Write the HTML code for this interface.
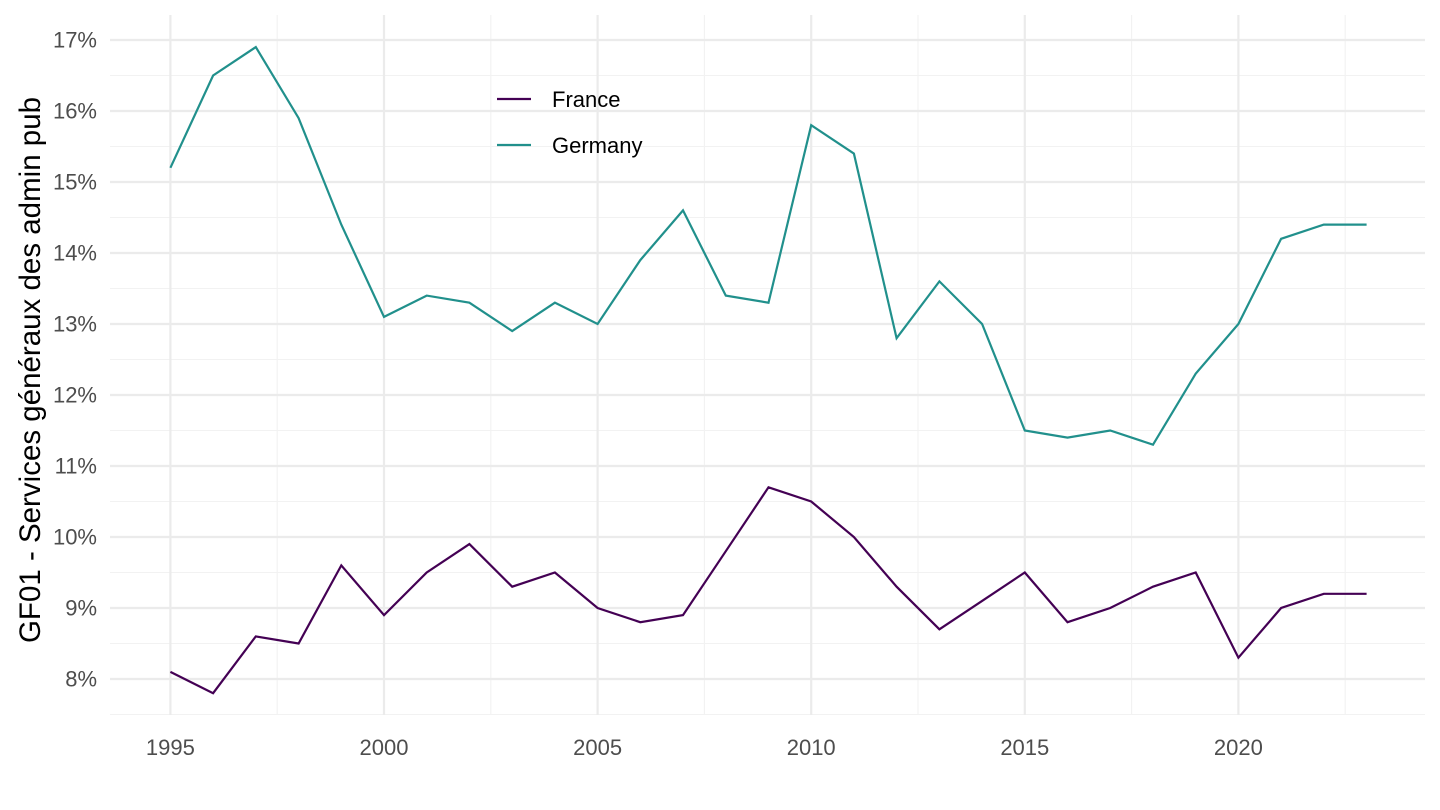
<!DOCTYPE html>
<html><head><meta charset="utf-8"><style>
html,body{margin:0;padding:0;background:#fff;}
svg{display:block;font-family:"Liberation Sans",sans-serif;}
</style></head><body>
<svg id="s" width="1440" height="810" xmlns="http://www.w3.org/2000/svg"></svg>
<script>
const s=document.getElementById('s');
const X=y=>170.4+(y-1995)*42.72;
const Y=v=>40+(17-v)*71;
let h='';
for(let v=7.5;v<=16.6;v+=1)h+=`<line x1="110" x2="1425" y1="${Y(v)}" y2="${Y(v)}" stroke="#f2f2f2" stroke-width="1.1"/>`;
for(let y=1997.5;y<2025;y+=5)h+=`<line y1="15" y2="715" x1="${X(y)}" x2="${X(y)}" stroke="#f2f2f2" stroke-width="1.1"/>`;
for(let v=8;v<=17;v++){h+=`<line x1="110" x2="1425" y1="${Y(v)}" y2="${Y(v)}" stroke="#ebebeb" stroke-width="2.2"/>`;
h+=`<text x="97" y="${Y(v)+7.5}" text-anchor="end" font-size="22" fill="#4d4d4d">${v}%</text>`;}
for(let y=1995;y<=2020;y+=5){h+=`<line y1="15" y2="715" x1="${X(y)}" x2="${X(y)}" stroke="#ebebeb" stroke-width="2.2"/>`;
h+=`<text x="${X(y)}" y="755" text-anchor="middle" font-size="22" fill="#4d4d4d">${y}</text>`;}
const G=[15.2,16.5,16.9,15.9,14.4,13.1,13.4,13.3,12.9,13.3,13.0,13.9,14.6,13.4,13.3,15.8,15.4,12.8,13.6,13.0,11.5,11.4,11.5,11.3,12.3,13.0,14.2,14.4,14.4];
const F=[8.1,7.8,8.6,8.5,9.6,8.9,9.5,9.9,9.3,9.5,9.0,8.8,8.9,9.8,10.7,10.5,10.0,9.3,8.7,9.1,9.5,8.8,9.0,9.3,9.5,8.3,9.0,9.2,9.2];
const pl=(d,c)=>`<polyline fill="none" stroke="${c}" stroke-width="2.2" points="${d.map((v,i)=>X(1995+i).toFixed(1)+','+Y(v).toFixed(1)).join(' ')}"/>`;
h+=pl(F,'#440154')+pl(G,'#21908C');
h+=`<line x1="497" x2="531" y1="99" y2="99" stroke="#440154" stroke-width="2.2"/><text x="552" y="107" font-size="22" fill="#000">France</text>`;
h+=`<line x1="497" x2="531" y1="145" y2="145" stroke="#21908C" stroke-width="2.2"/><text x="552" y="153" font-size="22" fill="#000">Germany</text>`;
h+=`<text transform="translate(40,370) rotate(-90)" text-anchor="middle" font-size="29.5" fill="#000">GF01 - Services généraux des admin pub</text>`;
s.innerHTML=h;
</script>
</body></html>
